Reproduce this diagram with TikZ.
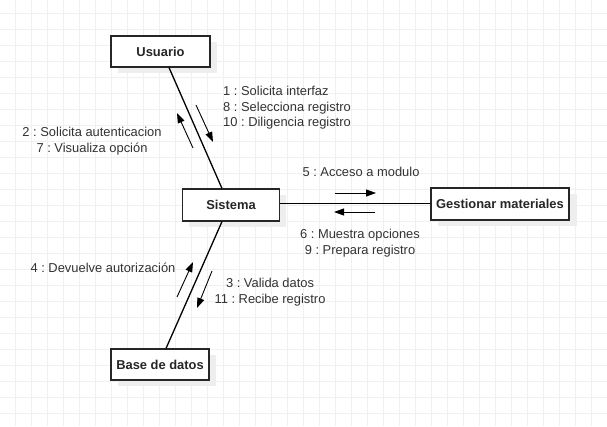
\documentclass[tikz,border=0pt]{standalone}
\usepackage{fontspec}
\setmainfont{Liberation Sans}
\usetikzlibrary{arrows.meta,calc}
\definecolor{gridc}{HTML}{F0F0F0}
\definecolor{shad}{HTML}{EEEEEE}
\definecolor{txt}{HTML}{333333}
\frenchspacing
\begin{document}
\begin{tikzpicture}[x=1pt,y=-1pt,
  obj/.style={draw=black!85,line width=1.1pt,fill=white,font=\fontsize{12.9}{15.5}\selectfont\bfseries,text=black!85,inner sep=0pt},
  link/.style={line width=1.3pt,black},
  msg/.style={line width=0.9pt,black,-{Triangle[length=10pt,width=7pt]}},
  lbl/.style={font=\fontsize{12.9}{15.5}\selectfont,text=txt,inner sep=0pt}]
\useasboundingbox (0,0) rectangle (607,426);
\fill[white] (0,0) rectangle (607,426);
% grid
\foreach \x in {15,31,...,607} \draw[gridc,line width=0.8pt] (\x,0) -- (\x,426);
\foreach \y in {13,29,...,426} \draw[gridc,line width=0.8pt] (0,\y) -- (607,\y);
% shadows
\fill[shad] (118,42) rectangle (217,73);
\fill[shad] (189,195) rectangle (286,227);
\fill[shad] (438,194) rectangle (577,226);
\fill[shad] (118,355) rectangle (216,386);
% nodes
\node[obj,minimum width=99pt,minimum height=31pt] (usr) at (160.5,51.5) {Usuario};
\node[obj,minimum width=97pt,minimum height=32pt] (sis) at (231,205) {Sistema};
\node[obj,minimum width=138pt,minimum height=32pt] (ges) at (500,204) {Gestionar materiales};
\node[obj,minimum width=98pt,minimum height=31pt] (bd) at (160,364.5) {Base de datos};
% links
\draw[link] ($(usr.south)+(8.5,0)$) -- ($(sis.north)+(-9,0)$);
\draw[link] ($(sis.south)+(-9,0)$) -- ($(bd.north)+(6,0)$);
\draw[link] ($(sis.east)+(0,-1.5)$) -- ($(ges.west)+(0,-0.5)$);
% message arrows
\coordinate (a1s) at (193,148); \coordinate (a1e) at (177,113);
\coordinate (a2s) at (196,105); \coordinate (a2e) at (213,142);
\coordinate (a3s) at (335,193); \coordinate (a3e) at (376,193);
\coordinate (a4s) at (375,212); \coordinate (a4e) at (334,212);
\coordinate (a5s) at (177,297); \coordinate (a5e) at (193,262);
\coordinate (a6s) at (212,271); \coordinate (a6e) at (197,308);
\draw[msg] (a1s) -- (a1e);
\draw[msg] (a2s) -- (a2e);
\draw[msg] (a3s) -- (a3e);
\draw[msg] (a4s) -- (a4e);
\draw[msg] (a5s) -- (a5e);
\draw[msg] (a6s) -- (a6e);
% labels
\node[lbl,anchor=west,align=left] (l1) at (223,108) {1 : Solicita interfaz\\8 : Selecciona registro\\10 : Diligencia registro};
\node[lbl,align=center] (l2) at (92,141) {2 : Solicita autenticacion\\7 : Visualiza opción};
\node[lbl] (l3) at (361,172) {5 : Acceso a modulo};
\node[lbl,align=center] (l4) at (360,243) {6 : Muestra opciones\\9 : Prepara registro};
\node[lbl] (l5) at (103,267.5) {4 : Devuelve autorización};
\node[lbl,align=center] (l6) at (270,292) {3 : Valida datos\\11 : Recibe registro};
\end{tikzpicture}
\end{document}
